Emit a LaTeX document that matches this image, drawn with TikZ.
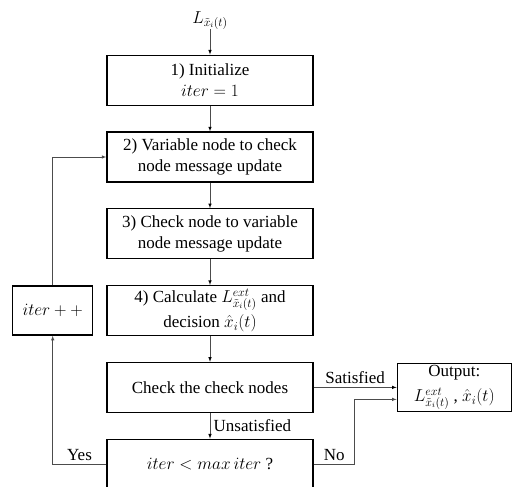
\documentclass[tikz,border=0pt]{standalone}
\usepackage{fontspec}
\setmainfont{Liberation Serif}
\usetikzlibrary{matrix,arrows}

\begin{document}
\begin{tikzpicture}[x=1pt,y=1pt,
		box/.style={draw,line width=1.3pt,minimum width=206pt,minimum height=50pt,align=center,inner sep=1pt},
		flow/.style={->,>=latex,draw=black!70,line width=0.6pt}]
			\useasboundingbox (0,0) rectangle (512,-487);
			\matrix (b) [row sep=25.5pt, column sep=13pt, inner sep=0pt,
				nodes={anchor=center,font=\fontsize{17}{21}\selectfont},
				matrix anchor=vtoc.center] at (210,-157)
			{
				& \node (lin) {$L_{\tilde{x}_i(t)}$}; &[70pt] \\
				& \node[box] (init) {1) Initialize\\ $iter=1$}; &[70pt] \\
				& \node[box] (vtoc) {2) Variable node to check\\ node message update}; &[70pt] \\
				& \node[box] (ctov) {3) Check node to variable\\ node message update}; &[70pt] \\
				\node[box,minimum width=80pt,minimum height=49pt] (incr) {$iter++$}; & \node[box] (calc) {4) Calculate $L^{ext}_{\tilde{x}_i(t)}$ and\\[4pt] decision $\hat{x}_i(t)$}; &[70pt] \\
				& \node[box] (chk) {Check the check nodes}; &[70pt] \node[box,minimum width=114pt,minimum height=48pt] (outp) {Output:\\[4pt] $L^{ext}_{\tilde{x}_i(t)}$ , $\hat{x}_i(t)$}; \\
				& \node[box] (cond) {$iter<max\,iter$ ?}; &[70pt] \\
			};
			\path[flow, font=\fontsize{17}{21}\selectfont]
			(lin) edge (init)
			(init) edge (vtoc)
			(vtoc) edge (ctov)
			(ctov) edge (calc)
			(calc) edge (chk)
			(chk) edge node[right]{Unsatisfied} (cond)
			(chk) edge node[above]{Satisfied} (outp);
			\draw[flow] (cond.west) -| node[above,pos=0.25,font=\fontsize{17}{21}\selectfont]{Yes} (incr.south);
			\draw[flow] (incr.north) |- (vtoc.west);
			\draw[flow] (cond.east) -- node[above,font=\fontsize{17}{21}\selectfont]{No} ++(41,0) |- ([yshift=-12pt]outp.west);
		\end{tikzpicture}
\end{document}
